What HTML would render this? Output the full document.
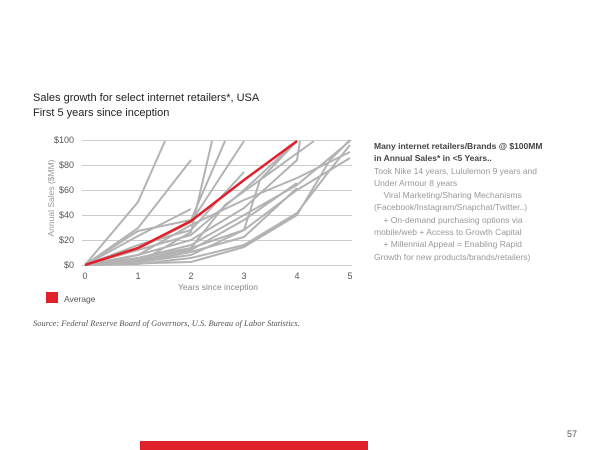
<!DOCTYPE html>
<html><head><style>
body{margin:0;width:600px;height:450px;background:#fff;font-family:"Liberation Sans",sans-serif;position:relative;overflow:hidden}
.t{position:absolute;white-space:nowrap}
</style></head><body>
<div class="t" style="left:33px;top:91px;font-size:11px;color:#222;line-height:15px">Sales growth for select internet retailers*, USA<br>First 5 years since inception</div>
<svg width="600" height="450" style="position:absolute;left:0;top:0">
<g stroke="#ccc" stroke-width="1">
<line x1="82" y1="140.5" x2="352" y2="140.5"/><line x1="82" y1="165.5" x2="352" y2="165.5"/><line x1="82" y1="190.5" x2="352" y2="190.5"/><line x1="82" y1="215.5" x2="352" y2="215.5"/><line x1="82" y1="240.5" x2="352" y2="240.5"/><line x1="82" y1="265.5" x2="352" y2="265.5"/>
</g>
<g font-size="9" fill="#555" text-anchor="end">
<text x="74" y="143">$100</text><text x="74" y="168">$80</text><text x="74" y="193">$60</text><text x="74" y="218">$40</text><text x="74" y="243">$20</text><text x="74" y="268">$0</text>
</g>
<g font-size="9" fill="#555" text-anchor="middle">
<text x="85" y="279">0</text><text x="138" y="279">1</text><text x="191" y="279">2</text><text x="244" y="279">3</text><text x="297" y="279">4</text><text x="350" y="279">5</text>
<text x="218" y="290" fill="#888" font-size="8.5">Years since inception</text>
</g>
<text transform="translate(54,198) rotate(-90)" font-size="8.5" fill="#999" text-anchor="middle">Annual Sales ($MM)</text>
<g fill="none" stroke="#b3b3b3" stroke-width="2" stroke-linejoin="round">
<polyline points="85,265 138,202 165,141"/>
<polyline points="85,265 138,228 191,160"/>
<polyline points="85,265 138,236 191,209"/>
<polyline points="85,265 138,231 191,220 225,141"/>
<polyline points="85,265 138,249 191,222 244,141"/>
<polyline points="85,265 138,245 191,230 244,172"/>
<polyline points="85,265 138,250 191,235 244,190 297,141"/>
<polyline points="85,265 138,255 191,240 244,208 297,160 300,141"/>
<polyline points="85,265 138,258 191,245 244,215 297,185 350,141"/>
<polyline points="85,265 138,258 191,248 244,230 297,190 350,158"/>
<polyline points="85,265 138,260 191,250 244,220 297,183"/>
<polyline points="85,265 138,262 191,252 244,237 297,188"/>
<polyline points="85,265 138,262 191,255 244,230 260,180 297,141"/>
<polyline points="85,265 138,264 191,258 244,245 297,213 330,170 350,145"/>
<polyline points="85,265 138,263 191,232 212,141"/>
<polyline points="85,265 138,262 191,248 225,205 260,180 314,141"/>
<polyline points="85,265 191,262 244,247 297,215 330,160 350,140"/>
<polyline points="85,265 138,255 191,225 244,200 297,178 350,152"/>
</g>
<polyline points="85,265 138,248 191,221 244,180 297,141" fill="none" stroke="#e0202a" stroke-width="2.5" stroke-linejoin="round"/>
<rect x="46" y="292" width="12" height="11" fill="#e0202a"/>
<text x="64" y="302" font-size="8.5" fill="#555">Average</text>
<text x="33" y="326" font-size="8.5" fill="#555" font-style="italic" font-family="Liberation Serif,serif">Source: Federal Reserve Board of Governors, U.S. Bureau of Labor Statistics.</text>
<text x="567" y="437" font-size="9" fill="#555">57</text>
<rect x="140" y="441" width="228" height="9" fill="#e0202a"/>
</svg>
<div class="t" style="left:374px;top:140px;font-size:8.5px;line-height:12.3px;color:#999">
<b style="color:#444">Many internet retailers/Brands @ $100MM<br>in Annual Sales* in &lt;5 Years..</b><br>
Took Nike 14 years, Lululemon 9 years and<br>Under Armour 8 years<br>
&nbsp;&nbsp;&nbsp;&nbsp;Viral Marketing/Sharing Mechanisms<br>(Facebook/Instagram/Snapchat/Twitter..)<br>
&nbsp;&nbsp;&nbsp;&nbsp;+ On-demand purchasing options via<br>mobile/web + Access to Growth Capital<br>
&nbsp;&nbsp;&nbsp;&nbsp;+ Millennial Appeal = Enabling Rapid<br>Growth for new products/brands/retailers)
</div>
</body></html>
